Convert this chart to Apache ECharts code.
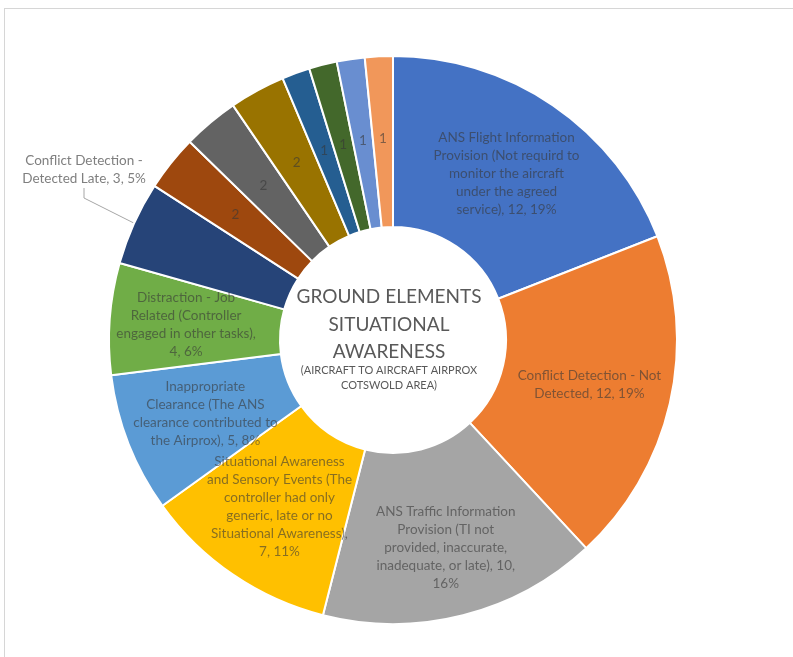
<!DOCTYPE html>
<html>
<head>
<meta charset="utf-8">
<script src="https://cdn.jsdelivr.net/npm/echarts@6/dist/echarts.min.js"></script>
<style>
html, body { margin: 0; padding: 0; background: #fff; }
#frame { position: absolute; left: 4px; top: 8px; width: 800px; height: 660px;
  border-top: 1px solid #d6d6d6; border-left: 1px solid #d6d6d6; }
#chart { position: absolute; left: 0; top: 0; width: 793px; height: 657px; }
</style>
</head>
<body>
<div id="frame"></div>
<div id="chart"></div>
<script>
// slice names, clockwise from 12 o'clock (\n = where the label text wraps)
var categories = [
	'ANS Flight Information\nProvision (Not requird to\nmonitor the aircraft\nunder the agreed\nservice)',
	'Conflict Detection - Not\nDetected',
	'ANS Traffic Information\nProvision (TI not\nprovided, inaccurate,\ninadequate, or late)',
	'Situational Awareness\nand Sensory Events (The\ncontroller had only\ngeneric, late or no\nSituational Awareness)',
	'Inappropriate\nClearance (The ANS\nclearance contributed to\nthe Airprox)',
	'Distraction - Job\nRelated (Controller\nengaged in other tasks)',
	'Conflict Detection -\nDetected Late',
	'Other 1', 'Other 2', 'Other 3', 'Other 4', 'Other 5', 'Other 6', 'Other 7'
];
var values = [12, 12, 10, 7, 5, 4, 3, 2, 2, 2, 1, 1, 1, 1];
var colors = ['#4472C4', '#ED7D31', '#A5A5A5', '#FFC000', '#5B9BD5', '#70AD47', '#264478',
	'#9E480E', '#636363', '#997300', '#255E91', '#43682B', '#698ED0', '#F1975A'];

// 0: value and percent stay on the last line, 1: wrap before value, 2: wrap before percent
var valueWrap = [0, 0, 2, 1, 0, 1, 0];

var titleLines = ['GROUND ELEMENTS', 'SITUATIONAL', 'AWARENESS'];
var subLines = ['(AIRCRAFT TO AIRCRAFT AIRPROX', 'COTSWOLD AREA)'];

var myChart = echarts.init(document.getElementById('chart'));

var data = categories.map(function (name, i) {
	var item = { name: name, value: values[i], itemStyle: { color: colors[i] } };
	if (i === 6) {
		item.label = { position: 'outside', color: '#7f7f7f' };
		item.labelLine = { show: true, length: 20, length2: 10, lineStyle: { color: '#a6a6a6', width: 1 } };
	}
	return item;
});

var cx = 393, cy = 340;
var graphics = [];
titleLines.forEach(function (t, i) {
	graphics.push({
		type: 'text', x: 389, y: 297 + i * 27.5,
		style: { text: t, fill: '#595959', font: '19px Lato', textAlign: 'center', textVerticalAlign: 'middle' }
	});
});
subLines.forEach(function (t, i) {
	graphics.push({
		type: 'text', x: 389, y: 370 + i * 15,
		style: { text: t, fill: '#595959', font: '11px Lato', textAlign: 'center', textVerticalAlign: 'middle' }
	});
});

myChart.setOption({
	animation: false,
	textStyle: { fontFamily: 'Lato' },
	graphic: graphics,
	series: [
		{
			name: 'Situational Awareness',
			type: 'pie',
			center: [cx, cy],
			radius: [113, 284],
			startAngle: 90,
			percentPrecision: 0,
			avoidLabelOverlap: false,
			itemStyle: { borderColor: '#fff', borderWidth: 2 },
			label: {
				position: 'inside',
				fontSize: 13.5,
				lineHeight: 18,
				color: 'rgba(55,55,55,0.6)',
				align: 'center',
				formatter: function (p) {
					if (p.value <= 2) return String(p.value);
					var w = valueWrap[p.dataIndex];
					return p.name + (w === 1 ? ',\n' : ', ') + p.value + (w === 2 ? ',\n' : ', ') + p.percent + '%';
				}
			},
			labelLine: { show: false },
			labelLayout: function (p) {
				if (p.dataIndex === 6) {
					return { x: 84, y: 170, align: 'center', verticalAlign: 'middle' };
				}
				if (p.dataIndex === 2) {
					return { dx: 3, dy: 12 };
				}
				if (p.dataIndex === 5) {
					return { dx: -6 };
				}
			},
			data: data
		}
	]
});
</script>
</body>
</html>
